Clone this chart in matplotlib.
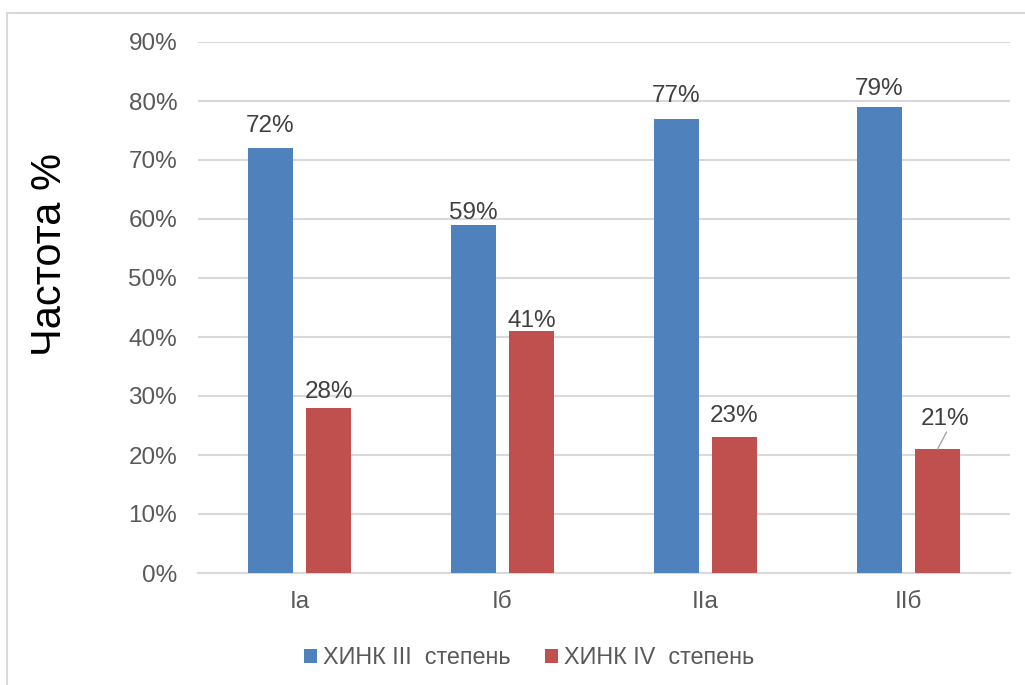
import matplotlib.pyplot as plt
import numpy as np
from matplotlib.lines import Line2D

plt.rcParams['font.family'] = ['Liberation Sans', 'DejaVu Sans']

categories = ['Ia', 'Iб', 'IIa', 'IIб']
stage3 = [0.72, 0.59, 0.77, 0.79]
stage4 = [0.28, 0.41, 0.23, 0.21]
series_names = ['ХИНК III  степень', 'ХИНК IV  степень']
yticks = np.arange(0, 1.0, 0.1)

# label offsets above bar tops, pixels (as placed in the original)
gap3 = [16, 6, 17, 12]
gap4 = [10, 4, 15, 24]

blue = '#4F81BD'
red = '#C0504D'
grid = '#D9D9D9'
txt = '#595959'
fs = 17.5

fig = plt.figure(figsize=(10.25, 6.85), dpi=100)
ax = fig.add_axes([198/1025, 1-573/685, (1010-198)/1025, (573-42)/685])

x = np.arange(len(categories))
w = 0.222
off = 0.143
b1 = ax.bar(x - off, stage3, w, color=blue, label=series_names[0], zorder=3)
b2 = ax.bar(x + off, stage4, w, color=red, label=series_names[1], zorder=3)

for i in range(len(categories)):
    ax.annotate(f'{round(stage3[i]*100)}%', (x[i] - off, stage3[i]),
                xytext=(0, gap3[i]), textcoords='offset pixels',
                ha='center', va='baseline', fontsize=fs, color='#404040')
    dx = 8 if i == 3 else 0
    ax.annotate(f'{round(stage4[i]*100)}%', (x[i] + off, stage4[i]),
                xytext=(dx, gap4[i]), textcoords='offset pixels',
                ha='center', va='baseline', fontsize=fs, color='#404040')

# leader line for the shifted 21% label
ax.annotate('', (x[3] + off, stage4[3]), xytext=(9, 17), textcoords='offset pixels',
            arrowprops=dict(arrowstyle='-', color='#A6A6A6', lw=1,
                            shrinkA=0, shrinkB=0))

ax.set_xlim(-0.5, len(categories) - 0.5)
ax.set_ylim(0, 0.9)
ax.set_yticks(yticks)
ax.set_yticklabels([f'{round(v*100)}%' for v in yticks])
ax.set_xticks(x)
ax.set_xticklabels(categories)
ax.tick_params(axis='both', length=0, labelsize=fs, colors=txt)
ax.tick_params(axis='y', pad=15)
ax.tick_params(axis='x', pad=13)
ax.yaxis.grid(True, color=grid, lw=1.5, zorder=0)
ax.set_axisbelow(True)
for s in ['top', 'right', 'left']:
    ax.spines[s].set_visible(False)
ax.spines['bottom'].set_color(grid)
ax.spines['bottom'].set_linewidth(1.5)

fig.text(50/1025, 1-255/685, 'Частота %', rotation=90, fontsize=30,
         ha='center', va='center', color='black')

fig.legend(handles=[b1, b2], loc='center', bbox_to_anchor=(529/1025, 1-658/685),
           ncol=2, frameon=False, fontsize=16.8, labelcolor=txt,
           handlelength=0.55, handleheight=0.55, handletextpad=0.25, columnspacing=1.5)

# chart area border
fig.add_artist(Line2D([7/1025, 7/1025], [0, 1-13/685], color='#D9D9D9', lw=1.5))
fig.add_artist(Line2D([7/1025, 1], [1-13/685, 1-13/685], color='#D9D9D9', lw=1.5))

fig.savefig('out.png', dpi=100)
